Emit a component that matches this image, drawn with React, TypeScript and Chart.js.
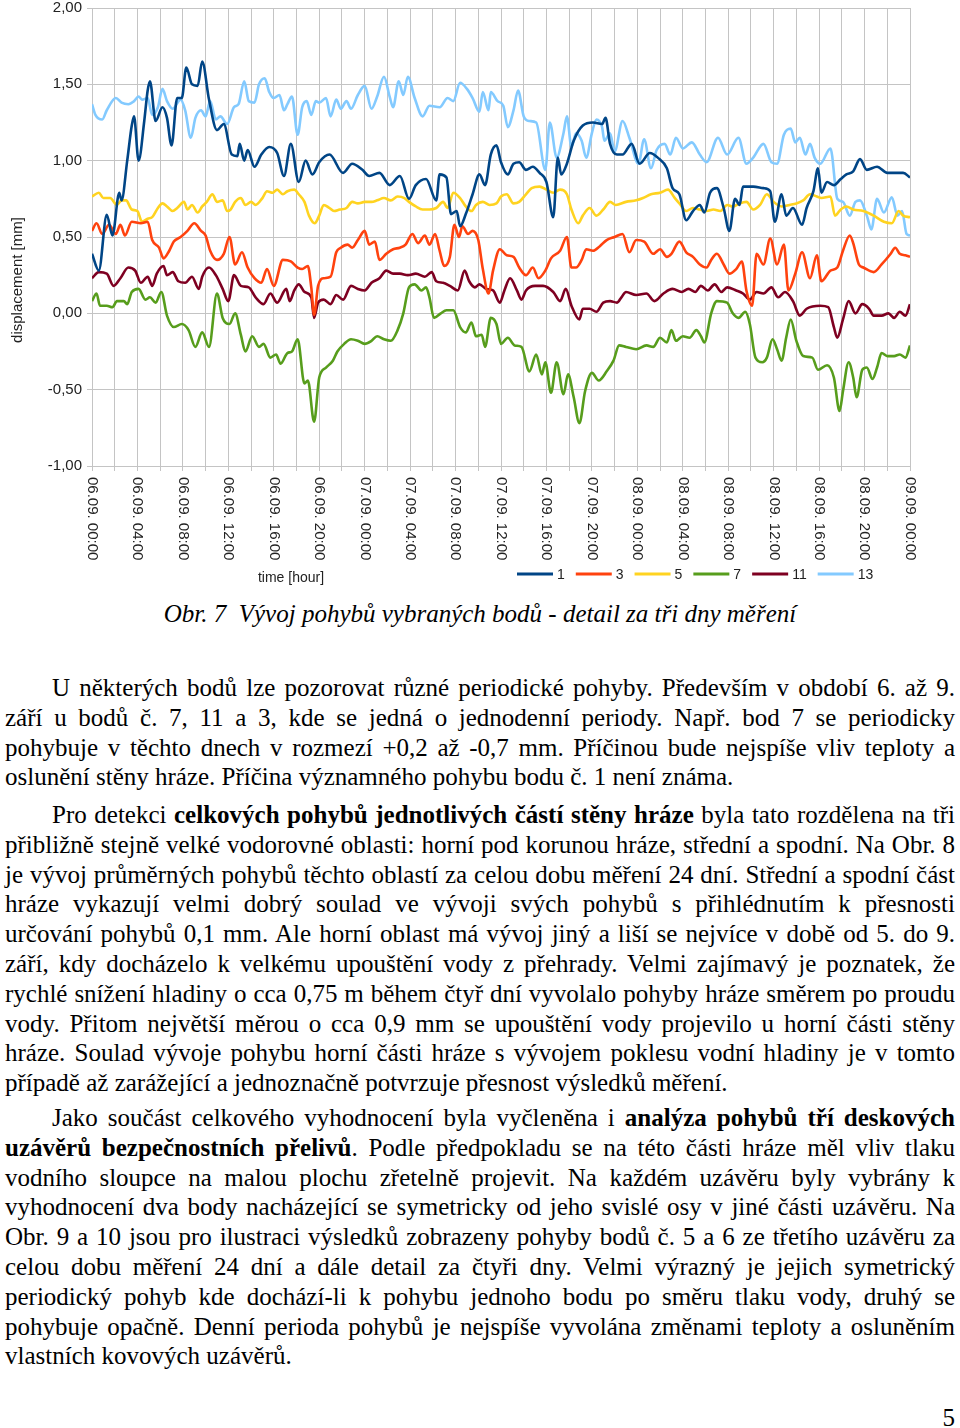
import React, { useEffect, useRef } from "react";
import { Chart, registerables } from "chart.js";
Chart.register(...registerables);

// ---------- DATA ----------
const xTickLabels = [
  "06.09. 00:00", "06.09. 04:00", "06.09. 08:00", "06.09. 12:00", "06.09. 16:00", "06.09. 20:00",
  "07.09. 00:00", "07.09. 04:00", "07.09. 08:00", "07.09. 12:00", "07.09. 16:00", "07.09. 20:00",
  "08.09. 00:00", "08.09. 04:00", "08.09. 08:00", "08.09. 12:00", "08.09. 16:00", "08.09. 20:00",
  "09.09. 00:00",
];
const labelStepHours = 4;
const gridStepHours = 2;
const seriesNames = ["1", "3", "5", "7", "11", "13"];
const seriesColors = ["#004586", "#ff420e", "#ffd320", "#579d1c", "#7e0021", "#83caff"];

// [hour since 06.09. 00:00, displacement mm]
const point1: number[][] = [[0,0.39],[0.6,0.28],[1.3,0.645],[1.8,0.51],[2.4,0.79],[2.6,0.74],[3.1,1.0],[3.5,1.23],[3.7,1.29],[4.1,1.0],[4.6,1.26],[4.9,1.46],[5.1,1.52],[5.6,1.26],[6.2,1.35],[6.6,1.28],[7.0,1.10],[7.5,1.41],[7.9,1.41],[8.3,1.61],[8.8,1.50],[9.3,1.49],[9.7,1.65],[10.3,1.40],[11,1.20],[11.6,1.24],[12.3,1.04],[12.8,1.03],[13,1.11],[13.4,1.0],[13.7,1.07],[14.3,0.96],[14.9,1.04],[15.6,1.09],[16.3,1.05],[16.9,0.90],[17.5,1.11],[18.2,0.86],[18.8,1.0],[19.4,0.91],[20,0.99],[20.9,1.04],[22.1,0.92],[22.9,0.98],[23.8,0.94],[24.4,0.90],[25.3,0.92],[26.2,0.84],[27.1,0.90],[27.9,0.75],[28.5,0.84],[29.4,0.88],[30.3,0.74],[30.6,0.91],[31.2,0.89],[31.6,0.65],[32.1,0.67],[32.4,0.57],[32.9,0.65],[33.5,0.78],[34.1,0.91],[34.6,0.84],[35.1,1.04],[35.6,1.10],[36,0.99],[36.6,0.91],[37.1,0.98],[37.6,0.99],[38.2,0.94],[38.8,0.96],[39.4,0.92],[40,0.86],[40.6,0.63],[41,1.02],[41.3,0.91],[41.8,0.98],[42.4,1.13],[43.2,1.23],[44.1,1.25],[44.9,1.24],[45.2,1.28],[45.6,1.11],[46.2,1.04],[46.7,1.04],[47.5,1.11],[48.2,0.98],[49.1,1.05],[49.8,1.02],[50.6,0.95],[51.1,0.82],[51.7,0.78],[52.3,0.61],[52.9,0.67],[53.5,0.71],[53.9,0.66],[54.4,0.79],[55,0.82],[55.6,0.69],[56.1,0.54],[56.6,0.75],[57,0.71],[57.3,0.83],[58.2,0.83],[59.1,0.82],[59.7,0.80],[60.1,0.60],[60.7,0.78],[61.1,0.64],[61.7,0.69],[62.5,0.58],[62.9,0.69],[63.5,0.80],[63.9,0.95],[64.2,0.79],[64.7,0.86],[65.3,0.84],[65.9,0.88],[66.4,0.91],[67,0.93],[67.6,1.01],[68.2,0.94],[69.1,0.96],[70,0.92],[70.9,0.92],[71.4,0.92],[72,0.89]];

const point3: number[][] = [[0,0.54],[0.4,0.59],[0.9,0.52],[1.5,0.58],[2.1,0.52],[2.5,0.58],[2.9,0.51],[3.5,0.60],[4.3,0.59],[4.9,0.60],[5.3,0.48],[5.9,0.43],[6.3,0.36],[6.8,0.41],[7.2,0.47],[7.8,0.50],[8.4,0.54],[9,0.59],[9.6,0.54],[10,0.51],[10.4,0.41],[11,0.35],[11.6,0.39],[12.1,0.50],[12.6,0.32],[13.2,0.40],[13.7,0.30],[14.3,0.23],[14.9,0.20],[15.4,0.29],[16,0.18],[16.8,0.35],[17.5,0.34],[18.1,0.30],[18.5,0.29],[19,0.31],[19.3,0.17],[19.55,-0.01],[19.9,0.18],[20.4,0.23],[21,0.24],[21.5,0.40],[21.9,0.43],[22.5,0.45],[22.9,0.43],[23.4,0.48],[24,0.54],[24.4,0.45],[24.9,0.47],[25.3,0.35],[25.9,0.39],[26.5,0.42],[27.1,0.43],[27.6,0.45],[28.2,0.52],[28.7,0.46],[29.3,0.51],[29.7,0.45],[30.2,0.52],[30.6,0.41],[31,0.31],[31.5,0.37],[31.9,0.58],[32.3,0.50],[32.6,0.57],[33.1,0.52],[33.5,0.54],[34,0.48],[34.4,0.29],[34.9,0.13],[35.3,0.28],[35.9,0.42],[36.5,0.38],[37.1,0.37],[37.6,0.30],[38.2,0.25],[38.8,0.30],[39.3,0.23],[39.9,0.28],[40.4,0.36],[41.2,0.41],[41.8,0.50],[42.2,0.30],[42.6,0.30],[43.1,0.35],[43.5,0.42],[44.1,0.41],[44.7,0.44],[45.3,0.48],[46,0.50],[46.7,0.52],[47.3,0.40],[47.9,0.48],[48.6,0.47],[49.4,0.39],[50,0.42],[50.6,0.37],[51,0.39],[51.7,0.47],[52.3,0.40],[52.9,0.37],[53.5,0.32],[54.1,0.30],[54.5,0.35],[55,0.39],[55.6,0.32],[56.1,0.26],[56.7,0.29],[57.2,0.34],[57.6,0.15],[58.1,0.05],[58.5,0.39],[59.1,0.32],[59.7,0.49],[60.3,0.32],[60.9,0.45],[61.3,0.15],[61.9,0.26],[62.5,0.40],[63.2,0.23],[63.8,0.38],[64.2,0.21],[65,0.28],[65.6,0.30],[66.1,0.41],[66.7,0.51],[67,0.46],[67.5,0.32],[67.9,0.30],[68.8,0.27],[69.5,0.32],[70.3,0.39],[70.7,0.43],[71.1,0.39],[71.6,0.38],[72,0.37]];

const point5: number[][] = [[0,0.765],[0.6,0.79],[1,0.755],[1.6,0.755],[2.2,0.71],[2.6,0.74],[3,0.74],[3.5,0.68],[4,0.67],[4.4,0.60],[4.9,0.62],[5.3,0.63],[5.8,0.69],[6.2,0.72],[6.6,0.70],[7.1,0.67],[7.5,0.69],[8.1,0.73],[8.4,0.68],[8.8,0.71],[9.3,0.66],[9.7,0.70],[10.1,0.73],[10.6,0.78],[11,0.73],[11.5,0.74],[11.9,0.67],[12.2,0.68],[12.6,0.73],[13.1,0.755],[13.5,0.71],[14,0.73],[14.4,0.71],[15,0.755],[15.4,0.80],[15.9,0.79],[16.3,0.81],[16.8,0.78],[17.2,0.80],[17.8,0.81],[18.2,0.78],[18.7,0.73],[19.1,0.64],[19.6,0.59],[20,0.64],[20.4,0.71],[20.9,0.69],[21.3,0.67],[21.8,0.68],[22.4,0.69],[22.9,0.73],[23.4,0.72],[24,0.73],[24.6,0.73],[25.1,0.74],[25.7,0.755],[26.3,0.74],[26.9,0.765],[27.5,0.755],[27.9,0.73],[28.5,0.70],[29.1,0.68],[29.7,0.68],[30.3,0.69],[30.9,0.73],[31.3,0.69],[31.8,0.79],[32.4,0.755],[32.9,0.70],[33.4,0.67],[33.8,0.71],[34.4,0.73],[35,0.71],[35.6,0.72],[36,0.765],[36.5,0.78],[37.1,0.72],[37.6,0.73],[38.2,0.78],[38.7,0.82],[39.4,0.83],[40,0.81],[40.6,0.79],[41.2,0.81],[41.8,0.78],[42.2,0.68],[42.8,0.59],[43.2,0.64],[43.8,0.69],[44.4,0.64],[45,0.68],[45.6,0.73],[46.1,0.71],[47,0.73],[47.9,0.74],[48.5,0.755],[49.2,0.78],[50,0.79],[50.7,0.81],[51.3,0.755],[51.7,0.72],[52.3,0.67],[52.9,0.69],[53.5,0.68],[54.1,0.67],[54.7,0.68],[55.3,0.67],[55.9,0.71],[56.4,0.70],[57,0.72],[57.6,0.73],[58.2,0.68],[58.8,0.71],[59.4,0.78],[60,0.73],[60.7,0.70],[61.4,0.71],[62,0.72],[62.6,0.74],[63.2,0.78],[63.8,0.765],[64.2,0.755],[65,0.765],[65.4,0.64],[65.9,0.68],[66.4,0.70],[67,0.68],[67.9,0.67],[68.8,0.64],[69.7,0.60],[70.4,0.59],[71,0.67],[71.4,0.64],[72,0.63]];

const point7: number[][] = [[0,0.08],[0.4,0.13],[0.7,0.05],[1.3,0.05],[1.8,0.04],[2.2,0.08],[2.8,0.08],[3.1,0.06],[3.5,0.14],[4.1,0.16],[4.7,0.09],[5.1,0.105],[5.6,0.07],[6.1,0.14],[6.6,-0.015],[7.2,-0.09],[7.9,-0.07],[8.5,-0.11],[9.1,-0.22],[9.7,-0.125],[10.3,-0.22],[11,0.13],[11.5,-0.03],[12.1,-0.07],[12.6,0.0],[13.1,-0.14],[13.5,-0.25],[14.1,-0.15],[14.7,-0.22],[15.1,-0.20],[15.7,-0.29],[16.2,-0.27],[16.6,-0.33],[17.2,-0.26],[17.6,-0.25],[18.1,-0.17],[18.7,-0.46],[19,-0.44],[19.55,-0.71],[20,-0.42],[20.6,-0.355],[21.2,-0.31],[21.6,-0.25],[22.2,-0.20],[22.8,-0.17],[23.4,-0.18],[24,-0.20],[24.6,-0.18],[25.1,-0.15],[25.7,-0.17],[26.3,-0.18],[26.9,-0.11],[27.4,0.0],[27.9,0.17],[28.4,0.19],[29,0.15],[29.4,0.17],[29.7,0.105],[30.1,-0.03],[30.7,0.0],[31.2,0.02],[31.8,0.02],[32.4,-0.09],[32.9,-0.125],[33.4,-0.06],[33.8,-0.15],[34.3,-0.14],[34.6,-0.22],[35.1,-0.03],[35.6,-0.07],[36,-0.20],[36.6,-0.16],[37.2,-0.21],[37.8,-0.22],[38.5,-0.38],[39.1,-0.27],[39.6,-0.40],[39.9,-0.32],[40.4,-0.52],[40.9,-0.32],[41.5,-0.53],[41.9,-0.40],[42.4,-0.55],[42.9,-0.72],[43.4,-0.51],[44,-0.39],[44.6,-0.44],[45.3,-0.38],[45.9,-0.31],[46.4,-0.21],[47,-0.22],[47.9,-0.235],[48.8,-0.21],[49.4,-0.22],[50,-0.16],[50.6,-0.19],[51,-0.11],[51.4,-0.18],[52,-0.15],[52.6,-0.16],[53.2,-0.11],[53.6,-0.15],[53.9,-0.19],[54.5,0.0],[55,0.08],[55.9,0.07],[56.4,0.0],[56.9,-0.03],[57.5,0.01],[57.9,-0.07],[58.4,-0.29],[59,-0.32],[59.4,-0.29],[59.9,-0.17],[60.3,-0.235],[60.7,-0.31],[61.1,-0.16],[61.5,-0.04],[62,-0.18],[62.6,-0.28],[63.4,-0.29],[63.9,-0.37],[64.7,-0.34],[65.3,-0.42],[65.8,-0.64],[66.1,-0.51],[66.6,-0.32],[67,-0.42],[67.3,-0.55],[67.8,-0.37],[68.2,-0.355],[68.7,-0.43],[69.1,-0.355],[69.5,-0.26],[70,-0.28],[70.6,-0.28],[71.1,-0.27],[71.6,-0.29],[72,-0.21]];

const point11: number[][] = [[0,0.23],[0.6,0.27],[1.3,0.26],[1.9,0.18],[2.5,0.23],[3.2,0.30],[3.8,0.28],[4.3,0.20],[4.9,0.24],[5.3,0.18],[5.7,0.26],[6.3,0.31],[6.6,0.25],[7.1,0.27],[7.6,0.21],[8.2,0.20],[8.8,0.24],[9.4,0.16],[9.7,0.24],[10.3,0.30],[10.9,0.25],[11.5,0.16],[12,0.08],[12.5,0.25],[13.1,0.18],[13.8,0.17],[14.4,0.105],[15.1,0.06],[15.7,0.13],[16.3,0.07],[17.1,0.16],[17.4,0.08],[17.8,0.15],[18.2,0.19],[18.7,0.14],[19.3,0.105],[19.55,-0.03],[19.9,0.07],[20.4,0.09],[21,0.06],[21.5,0.12],[22.1,0.09],[22.8,0.18],[23.4,0.16],[24,0.15],[24.6,0.20],[25.3,0.23],[25.9,0.28],[26.5,0.26],[27.1,0.26],[27.8,0.25],[28.5,0.26],[29.3,0.24],[29.9,0.27],[30.3,0.21],[30.9,0.20],[31.5,0.18],[32.2,0.15],[32.8,0.28],[33.2,0.21],[33.7,0.17],[34.1,0.19],[34.7,0.16],[35.3,0.15],[35.9,0.07],[36.3,0.15],[36.8,0.23],[37.4,0.15],[37.8,0.09],[38.2,0.15],[39,0.18],[39.7,0.18],[40.6,0.14],[41.2,0.08],[41.7,0.16],[42.2,0.05],[42.9,-0.04],[43.2,0.03],[43.8,0.03],[44.4,0.01],[45,0.07],[45.6,0.08],[46.2,0.07],[46.6,0.105],[47,0.14],[47.9,0.12],[48.8,0.13],[49.5,0.08],[50.3,0.13],[51.1,0.16],[51.9,0.14],[52.5,0.16],[53.1,0.14],[53.6,0.18],[54.2,0.15],[54.8,0.19],[55.4,0.14],[55.9,0.17],[56.7,0.15],[57.3,0.13],[57.9,0.09],[58.5,0.14],[59.1,0.13],[59.8,0.17],[60.4,0.105],[61,0.14],[61.7,0.08],[62.3,-0.015],[62.9,0.03],[64.1,0.05],[64.8,0.04],[65.3,-0.09],[65.6,-0.16],[66.1,-0.04],[66.6,0.08],[67.2,0.0],[67.8,0.06],[68.4,0.03],[68.8,-0.015],[69.5,-0.015],[70.1,0.0],[70.6,-0.03],[71.1,0.01],[71.6,-0.015],[72,0.06]];

const point13: number[][] = [[0,1.37],[0.3,1.30],[0.9,1.27],[1.3,1.33],[2.1,1.41],[2.6,1.38],[3.2,1.37],[3.7,1.39],[4.1,1.42],[4.4,1.40],[4.9,1.41],[5.3,1.30],[5.8,1.35],[6.2,1.47],[6.6,1.39],[7.1,1.34],[7.8,1.40],[8.2,1.33],[8.7,1.15],[9.1,1.28],[9.6,1.33],[10,1.29],[10.4,1.39],[10.9,1.27],[11.3,1.29],[11.9,1.24],[12.5,1.35],[12.9,1.37],[13.4,1.52],[13.8,1.39],[14.3,1.38],[14.7,1.50],[15.2,1.54],[15.6,1.45],[16,1.41],[16.5,1.43],[16.9,1.33],[17.2,1.37],[17.6,1.42],[18.1,1.17],[18.5,1.35],[18.9,1.39],[19.3,1.30],[19.7,1.39],[20,1.38],[20.6,1.41],[21,1.29],[21.5,1.40],[21.9,1.34],[22.4,1.39],[22.8,1.34],[23.4,1.43],[24,1.49],[24.6,1.34],[25.1,1.42],[25.7,1.55],[26.2,1.42],[26.5,1.35],[27,1.52],[27.4,1.43],[27.8,1.55],[28.4,1.41],[29.1,1.29],[29.7,1.36],[30.6,1.35],[31.3,1.41],[31.8,1.39],[32.4,1.51],[33,1.47],[33.5,1.41],[34.1,1.32],[34.4,1.45],[34.9,1.33],[35.1,1.45],[35.7,1.39],[36.2,1.36],[36.6,1.22],[37.1,1.33],[37.5,1.46],[38,1.29],[38.5,1.26],[39.1,1.25],[39.9,0.94],[40.3,1.25],[40.9,1.02],[41.5,1.18],[41.8,1.29],[42.2,1.09],[42.6,1.18],[43.1,1.13],[43.5,1.02],[44,1.18],[44.4,1.27],[44.9,1.22],[45.1,1.13],[45.6,1.18],[46,1.06],[46.7,1.26],[47.3,1.15],[48.1,0.98],[48.6,1.14],[49.2,0.95],[49.7,1.07],[50.4,1.11],[50.9,1.04],[51.4,1.15],[52,1.08],[52.8,1.12],[53.5,1.04],[54.1,0.99],[55.1,1.15],[55.9,1.04],[56.9,1.15],[57.6,0.98],[58.2,1.02],[59.1,1.11],[59.8,0.99],[60.3,0.98],[60.9,1.17],[61.5,1.21],[61.9,1.12],[62.3,1.15],[62.8,1.04],[63.2,1.11],[63.6,1.02],[64.1,0.98],[65,1.08],[65.6,0.75],[66.1,0.73],[66.7,0.64],[67.2,0.73],[67.6,0.74],[68.2,0.64],[68.6,0.55],[69.1,0.75],[69.7,0.66],[70.4,0.76],[70.9,0.64],[71.3,0.67],[71.7,0.52],[72,0.51]];

const seriesPoints = [point1, point3, point5, point7, point11, point13];

const yMin = -1;
const yMax = 2;
const yStep = 0.5;

// ---------- CHART ----------
const AXIS_FONT = "'Liberation Sans', Arial, sans-serif";
const TEXT_COLOR = "#222";
const GRID_COLOR = "#c4c4c4";

const decorations = {
  id: "decorations",
  afterDraw(chart: any) {
    const { ctx, chartArea, scales } = chart;
    const xs = scales.x;
    ctx.save();
    ctx.fillStyle = TEXT_COLOR;
    // rotated x tick labels (reading top to bottom)
    ctx.font = `15px ${AXIS_FONT}`;
    xTickLabels.forEach((lab, i) => {
      const px = xs.getPixelForValue(i * labelStepHours);
      ctx.save();
      ctx.translate(px, chartArea.bottom + 11);
      ctx.rotate(Math.PI / 2);
      ctx.textAlign = "left";
      ctx.textBaseline = "middle";
      ctx.fillText(lab, 0, 0);
      ctx.restore();
    });
    // y axis title
    ctx.save();
    ctx.font = `15px ${AXIS_FONT}`;
    ctx.translate(18, 280);
    ctx.rotate(-Math.PI / 2);
    ctx.textAlign = "center";
    ctx.textBaseline = "middle";
    ctx.fillText("displacement [mm]", 0, 0);
    ctx.restore();
    // x axis title
    ctx.font = `14px ${AXIS_FONT}`;
    ctx.textAlign = "center";
    ctx.textBaseline = "middle";
    ctx.fillText("time [hour]", 291, 578);
    // legend
    let lx = 517;
    const ly = 574;
    ctx.textAlign = "left";
    chart.data.datasets.forEach((ds: any) => {
      ctx.strokeStyle = ds.borderColor;
      ctx.lineWidth = 3;
      ctx.beginPath();
      ctx.moveTo(lx, ly);
      ctx.lineTo(lx + 36, ly);
      ctx.stroke();
      ctx.fillStyle = TEXT_COLOR;
      ctx.fillText(ds.label, lx + 40, ly + 1);
      lx += 40 + ctx.measureText(ds.label).width + 11;
    });
    ctx.restore();
  },
};

function ChartCanvas() {
  const ref = useRef<HTMLCanvasElement>(null);
  useEffect(() => {
    const chart = new Chart(ref.current as HTMLCanvasElement, {
      type: "line",
      data: {
        datasets: seriesNames.map((name, i) => ({
          label: name,
          data: seriesPoints[i].map(([h, v]) => ({ x: h, y: v })),
          borderColor: seriesColors[i],
          backgroundColor: seriesColors[i],
          borderWidth: 2.6,
          pointRadius: 0,
          cubicInterpolationMode: "monotone",
          fill: false,
        })),
      },
      options: {
        animation: false,
        responsive: false,
        devicePixelRatio: 1,
        layout: { padding: { top: 8, right: 50, left: 0, bottom: 0 } },
        plugins: { legend: { display: false }, tooltip: { enabled: false }, title: { display: false } },
        scales: {
          x: {
            type: "linear",
            min: 0,
            max: 72,
            ticks: { display: false, stepSize: gridStepHours },
            grid: { color: GRID_COLOR, lineWidth: 1, tickLength: 5 },
            border: { color: GRID_COLOR },
            afterFit: (s: any) => { s.height = 126; s.paddingLeft = 0; s.paddingRight = 0; },
          },
          y: {
            min: yMin,
            max: yMax,
            ticks: {
              stepSize: yStep,
              padding: 5,
              color: TEXT_COLOR,
              font: { family: AXIS_FONT, size: 15 },
              callback: (v: any) => Number(v).toFixed(2).replace(".", ","),
            },
            grid: { color: GRID_COLOR, lineWidth: 1, tickLength: 5 },
            border: { color: GRID_COLOR },
            afterFit: (s: any) => { s.width = 92; s.paddingTop = 0; s.paddingBottom = 0; },
          },
        },
      },
      plugins: [decorations],
    } as any);
    return () => chart.destroy();
  }, []);
  return <canvas ref={ref} width={960} height={592} style={{ position: "absolute", left: 0, top: 0, width: 960, height: 592 }} />;
}

// ---------- TEXT ----------
const SERIF = "'Liberation Serif', 'Times New Roman', serif";
const LH = 29.8;

function Line({ children, last, indent }: { children: any; last?: boolean; indent?: boolean }) {
  return (
    <div
      style={{
        height: LH,
        lineHeight: `${LH}px`,
        textAlign: "justify",
        textAlignLast: last ? "left" : "justify",
        paddingLeft: indent ? 47 : 0,
        overflow: "visible",
      } as any}
    >
      {children}
    </div>
  );
}

const paraStyle = (top: number): any => ({
  position: "absolute",
  left: 5,
  width: 950,
  top,
  fontFamily: SERIF,
  fontSize: 25,
  color: "#000",
});

export default function App() {
  return (
    <div style={{ position: "relative", width: 960, height: 1428, background: "#fff", overflow: "hidden" }}>
      <style>{`body{margin:0;background:#fff}`}</style>
      <ChartCanvas />
      <div
        style={{
          position: "absolute",
          left: 0,
          width: 960,
          top: 599,
          textAlign: "center",
          fontFamily: SERIF,
          fontStyle: "italic",
          fontSize: 25,
          lineHeight: "30px",
        }}
      >
        Obr. 7&nbsp; Vývoj pohybů vybraných bodů - detail za tři dny měření
      </div>

      <div style={paraStyle(673)}>
        <Line indent>U některých bodů lze pozorovat různé periodické pohyby. Především v období 6. až 9.</Line>
        <Line>září u bodů č. 7, 11 a 3, kde se jedná o jednodenní periody. Např. bod 7 se periodicky</Line>
        <Line>pohybuje v těchto dnech v rozmezí +0,2 až -0,7 mm. Příčinou bude nejspíše vliv teploty a</Line>
        <Line last>oslunění stěny hráze. Příčina významného pohybu bodu č. 1 není známa.</Line>
      </div>

      <div style={paraStyle(800)}>
        <Line indent>Pro detekci <b>celkových pohybů jednotlivých částí stěny hráze</b> byla tato rozdělena na tři</Line>
        <Line>přibližně stejně velké vodorovné oblasti: horní pod korunou hráze, střední a spodní. Na Obr. 8</Line>
        <Line>je vývoj průměrných pohybů těchto oblastí za celou dobu měření 24 dní. Střední a spodní část</Line>
        <Line>hráze vykazují velmi dobrý soulad ve vývoji svých pohybů s přihlédnutím k přesnosti</Line>
        <Line>určování pohybů 0,1 mm. Ale horní oblast má vývoj jiný a liší se nejvíce v době od 5. do 9.</Line>
        <Line>září, kdy docházelo k velkému upouštění vody z přehrady. Velmi zajímavý je poznatek, že</Line>
        <Line>rychlé snížení hladiny o cca 0,75 m během čtyř dní vyvolalo pohyby hráze směrem po proudu</Line>
        <Line>vody. Přitom největší měrou o cca 0,9 mm se upouštění vody projevilo u horní části stěny</Line>
        <Line>hráze. Soulad vývoje pohybu horní části hráze s vývojem poklesu vodní hladiny je v tomto</Line>
        <Line last>případě až zarážející a jednoznačně potvrzuje přesnost výsledků měření.</Line>
      </div>

      <div style={paraStyle(1103)}>
        <Line indent>Jako součást celkového vyhodnocení byla vyčleněna i <b>analýza pohybů tří deskových</b></Line>
        <Line><b>uzávěrů bezpečnostních přelivů</b>. Podle předpokladu se na této části hráze měl vliv tlaku</Line>
        <Line>vodního sloupce na malou plochu zřetelně projevit. Na každém uzávěru byly vybrány k</Line>
        <Line>vyhodnocení dva body nacházející se symetricky od jeho svislé osy v jiné části uzávěru. Na</Line>
        <Line>Obr. 9 a 10 jsou pro ilustraci výsledků zobrazeny pohyby bodů č. 5 a 6 ze třetího uzávěru za</Line>
        <Line>celou dobu měření 24 dní a dále detail za čtyři dny. Velmi výrazný je jejich symetrický</Line>
        <Line>periodický pohyb kde dochází-li k pohybu jednoho bodu po směru tlaku vody, druhý se</Line>
        <Line>pohybuje opačně. Denní perioda pohybů je nejspíše vyvolána změnami teploty a osluněním</Line>
        <Line last>vlastních kovových uzávěrů.</Line>
      </div>

      <div
        style={{
          position: "absolute",
          right: 5,
          top: 1403,
          fontFamily: SERIF,
          fontSize: 25,
          lineHeight: "30px",
        }}
      >
        5
      </div>
    </div>
  );
}
